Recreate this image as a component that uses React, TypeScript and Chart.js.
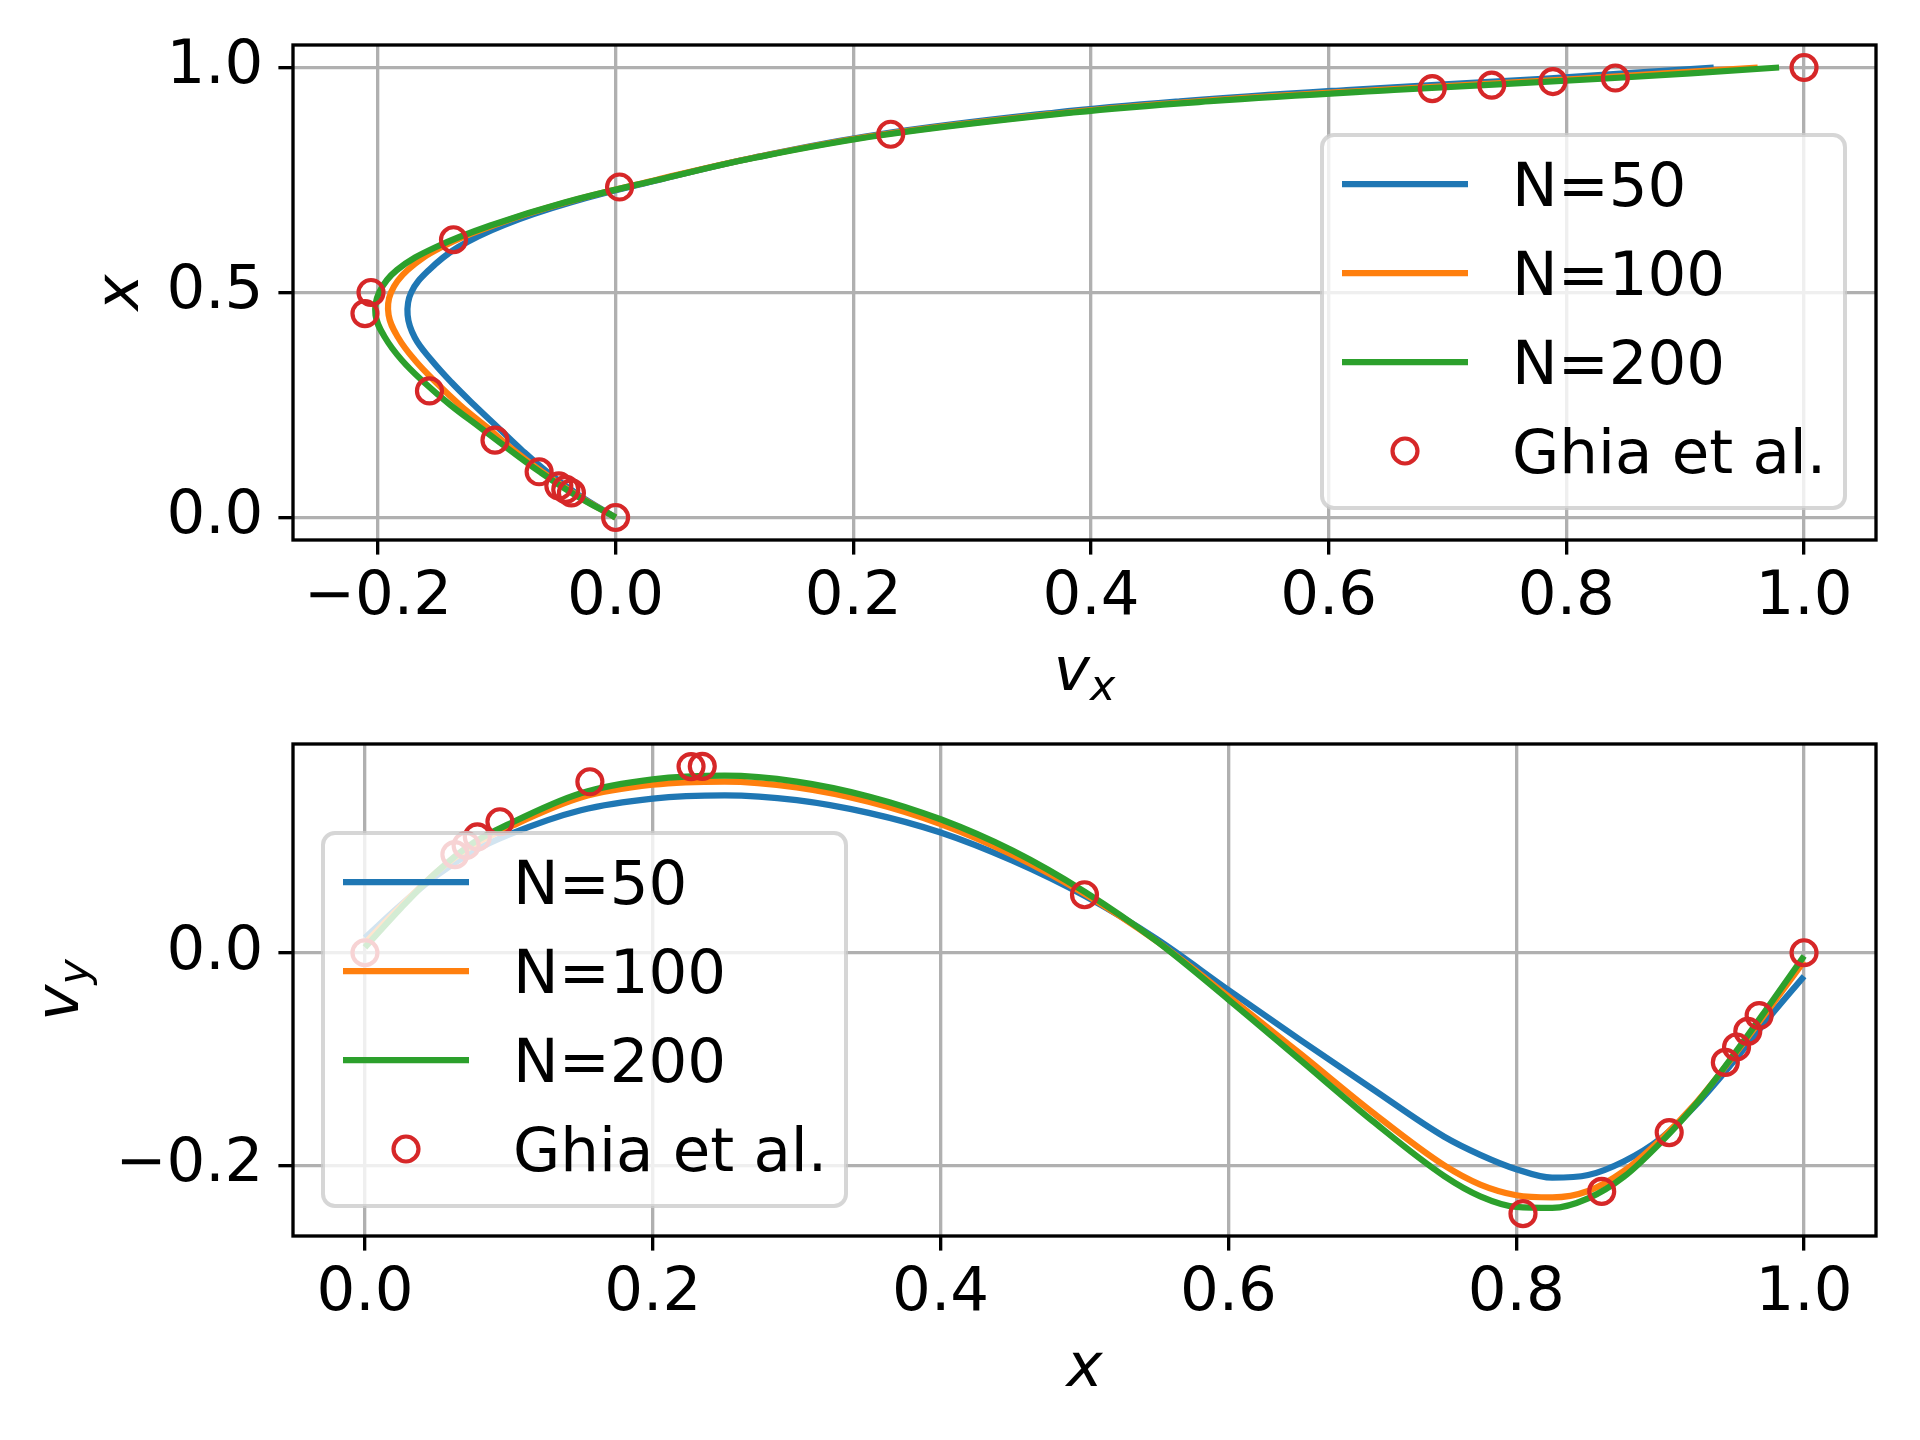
import React, { useEffect, useRef } from 'react';
import { Chart, registerables } from 'chart.js';

Chart.register(...registerables);

// ---------------- data ----------------
// Top panel: horizontal velocity v_x along the vertical centre line (position x)
const TOP_POS = [0, 0.05, 0.1, 0.15, 0.2, 0.25, 0.3, 0.35, 0.4, 0.45, 0.5, 0.55, 0.6, 0.65, 0.7, 0.75, 0.8, 0.85, 0.9, 0.925, 0.95, 0.975, 1.0];
const TOP_VX_N50 = [0, -0.031, -0.057, -0.079, -0.099, -0.119, -0.138, -0.155, -0.169, -0.175, -0.172, -0.157, -0.133, -0.094, -0.038, 0.036, 0.117, 0.218, 0.37, 0.475, 0.615, 0.78, 0.924];
const TOP_VX_N100 = [0, -0.033, -0.061, -0.086, -0.108, -0.131, -0.151, -0.169, -0.183, -0.191, -0.189, -0.175, -0.147, -0.102, -0.042, 0.034, 0.117, 0.222, 0.38, 0.49, 0.64, 0.81, 0.961];
const TOP_VX_N200 = [0, -0.034, -0.063, -0.089, -0.114, -0.139, -0.161, -0.18, -0.194, -0.202, -0.199, -0.184, -0.152, -0.104, -0.043, 0.035, 0.118, 0.225, 0.385, 0.5, 0.655, 0.83, 0.979];
const GHIA_Y = [1.0, 0.9766, 0.9688, 0.9609, 0.9531, 0.8516, 0.7344, 0.6172, 0.5, 0.4531, 0.2813, 0.1719, 0.1016, 0.0703, 0.0625, 0.0547, 0.0];
const GHIA_U = [1.0, 0.84123, 0.78871, 0.73722, 0.68717, 0.23151, 0.00332, -0.13641, -0.20581, -0.2109, -0.15662, -0.1015, -0.06434, -0.04775, -0.04192, -0.03717, 0.0];

// Bottom panel: vertical velocity v_y along the horizontal centre line
const BOT_POS = [0, 0.025, 0.05, 0.075, 0.1, 0.15, 0.2, 0.25, 0.3, 0.35, 0.4, 0.45, 0.5, 0.55, 0.6, 0.65, 0.7, 0.75, 0.775, 0.8, 0.825, 0.85, 0.875, 0.9, 0.925, 0.95, 0.975, 1.0];
const BOT_VY_N50 = [0.014, 0.045, 0.073, 0.095, 0.111, 0.134, 0.145, 0.148, 0.1435, 0.1315, 0.113, 0.0865, 0.0535, 0.013, -0.035, -0.082, -0.128, -0.173, -0.19, -0.2035, -0.2115, -0.209, -0.196, -0.175, -0.143, -0.104, -0.062, -0.022];
const BOT_VY_N100 = [0.009, 0.044, 0.076, 0.101, 0.118, 0.146, 0.158, 0.161, 0.1555, 0.142, 0.121, 0.092, 0.0555, 0.011, -0.041, -0.095, -0.15, -0.2, -0.218, -0.228, -0.23, -0.224, -0.205, -0.176, -0.141, -0.099, -0.054, -0.008];
const BOT_VY_N200 = [0.005, 0.042, 0.076, 0.103, 0.121, 0.15, 0.163, 0.1665, 0.161, 0.147, 0.1255, 0.096, 0.0575, 0.011, -0.044, -0.101, -0.158, -0.21, -0.229, -0.239, -0.24, -0.231, -0.2105, -0.179, -0.142, -0.098, -0.051, -0.003];
const GHIA_X = [1.0, 0.9688, 0.9609, 0.9531, 0.9453, 0.9063, 0.8594, 0.8047, 0.5, 0.2344, 0.2266, 0.1563, 0.0938, 0.0781, 0.0703, 0.0625, 0.0];
const GHIA_V = [0.0, -0.05906, -0.07391, -0.08864, -0.10313, -0.16914, -0.22445, -0.24533, 0.05454, 0.17527, 0.17507, 0.16077, 0.12317, 0.1089, 0.10091, 0.09233, 0.0];

const SERIES_LABELS = ['N=50', 'N=100', 'N=200', 'Ghia et al.'];

const TOP_X_TICKS = [-0.2, 0, 0.2, 0.4, 0.6, 0.8, 1.0];
const TOP_X_TICK_LABELS = ['\u22120.2', '0.0', '0.2', '0.4', '0.6', '0.8', '1.0'];
const TOP_Y_TICKS = [0, 0.5, 1.0];
const TOP_Y_TICK_LABELS = ['0.0', '0.5', '1.0'];
const BOT_X_TICKS = [0, 0.2, 0.4, 0.6, 0.8, 1.0];
const BOT_X_TICK_LABELS = ['0.0', '0.2', '0.4', '0.6', '0.8', '1.0'];
const BOT_Y_TICKS = [-0.2, 0.0];
const BOT_Y_TICK_LABELS = ['\u22120.2', '0.0'];

// ---------------- styles ----------------
const COLORS = ['#1f77b4', '#ff7f0e', '#2ca02c', '#d62728'];
const FONT_FAMILY = "'DejaVu Sans', sans-serif";
const FS = 61;
const SUB_FS = 42.7;
const LINE_W = 6.25;
const THIN = 3.33;
const TICK_LEN = 14.6;
const MARKER_R = 12.5;
const MARKER_W = 4.17;

function pts(xs: number[], ys: number[]) {
  return xs.map((x, i) => ({ x, y: ys[i] }));
}

function paddedRange(values: number[]) {
  const lo = Math.min(...values);
  const hi = Math.max(...values);
  const m = (hi - lo) * 0.05;
  return [lo - m, hi + m];
}

function roundRectPath(ctx: CanvasRenderingContext2D, x: number, y: number, w: number, h: number, r: number) {
  ctx.beginPath();
  ctx.moveTo(x + r, y);
  ctx.lineTo(x + w - r, y);
  ctx.arcTo(x + w, y, x + w, y + r, r);
  ctx.lineTo(x + w, y + h - r);
  ctx.arcTo(x + w, y + h, x + w - r, y + h, r);
  ctx.lineTo(x + r, y + h);
  ctx.arcTo(x, y + h, x, y + h - r, r);
  ctx.lineTo(x, y + r);
  ctx.arcTo(x, y, x + r, y, r);
  ctx.closePath();
}

function drawMathLabel(ctx: CanvasRenderingContext2D, main: string, sub: string | null) {
  // draws centred on x=0 with baseline at y=0
  ctx.font = `italic ${FS}px ${FONT_FAMILY}`;
  const wMain = ctx.measureText(main).width;
  let wSub = 0;
  if (sub) {
    ctx.font = `italic ${SUB_FS}px ${FONT_FAMILY}`;
    wSub = ctx.measureText(sub).width;
  }
  const start = -(wMain + wSub) / 2;
  ctx.fillStyle = '#000';
  ctx.textAlign = 'left';
  ctx.textBaseline = 'alphabetic';
  ctx.font = `italic ${FS}px ${FONT_FAMILY}`;
  ctx.fillText(main, start, 0);
  if (sub) {
    ctx.font = `italic ${SUB_FS}px ${FONT_FAMILY}`;
    ctx.fillText(sub, start + wMain, 9.5);
  }
}

type PanelSpec = {
  lines: { x: number; y: number }[][];
  ghia: { x: number; y: number }[];
  monotone: boolean;
  xRange: number[];
  yRange: number[];
  xTicks: number[];
  xTickLabels: string[];
  yTicks: number[];
  yTickLabels: string[];
  padTop: number;
  xAxisH: number;
  legendX: (a: any) => number;
  legendY: (a: any) => number;
  xLabel: [string, string | null];
  yLabel: [string, string | null];
  yLabelOffset: number;
};

function labelFor(ticks: number[], labels: string[], v: number) {
  let best = 0;
  for (let i = 0; i < ticks.length; i++) {
    if (Math.abs(ticks[i] - v) < Math.abs(ticks[best] - v)) best = i;
  }
  return labels[best];
}

function makeConfig(spec: PanelSpec): any {
  const decor = {
    id: 'decor',
    afterDatasetsDraw(chart: any) {
      const ctx: CanvasRenderingContext2D = chart.ctx;
      const a = chart.chartArea;
      ctx.save();
      // spines
      ctx.strokeStyle = '#000';
      ctx.lineWidth = THIN;
      ctx.lineJoin = 'miter';
      ctx.strokeRect(a.left, a.top, a.right - a.left, a.bottom - a.top);
      // legend
      const bx = spec.legendX(a);
      const by = spec.legendY(a);
      const bw = 523;
      const bh = 373;
      roundRectPath(ctx, bx, by, bw, bh, 12);
      ctx.fillStyle = 'rgba(255,255,255,0.8)';
      ctx.fill();
      ctx.strokeStyle = 'rgba(204,204,204,0.8)';
      ctx.lineWidth = 4;
      ctx.stroke();
      chart.data.datasets.forEach((ds: any, i: number) => {
        const cy = by + 49 + i * 89;
        if (ds.showLine) {
          ctx.beginPath();
          ctx.moveTo(bx + 20, cy);
          ctx.lineTo(bx + 146, cy);
          ctx.strokeStyle = ds.borderColor;
          ctx.lineWidth = LINE_W;
          ctx.lineCap = 'butt';
          ctx.stroke();
        } else {
          ctx.beginPath();
          ctx.arc(bx + 83, cy, MARKER_R, 0, Math.PI * 2);
          ctx.strokeStyle = ds.pointBorderColor;
          ctx.lineWidth = MARKER_W;
          ctx.stroke();
        }
        ctx.fillStyle = '#000';
        ctx.font = `${FS}px ${FONT_FAMILY}`;
        ctx.textAlign = 'left';
        ctx.textBaseline = 'alphabetic';
        ctx.fillText(ds.label, bx + 190, cy + 22);
      });
      ctx.restore();
    },
    afterDraw(chart: any) {
      const ctx: CanvasRenderingContext2D = chart.ctx;
      const a = chart.chartArea;
      ctx.save();
      ctx.translate((a.left + a.right) / 2, a.bottom + 150);
      drawMathLabel(ctx, spec.xLabel[0], spec.xLabel[1]);
      ctx.restore();
      ctx.save();
      ctx.translate(a.left - spec.yLabelOffset, (a.top + a.bottom) / 2);
      ctx.rotate(-Math.PI / 2);
      drawMathLabel(ctx, spec.yLabel[0], spec.yLabel[1]);
      ctx.restore();
    },
  };

  const orders = [3, 2, 1];
  const datasets: any[] = spec.lines.map((data, i) => ({
    type: 'scatter',
    label: SERIES_LABELS[i],
    data,
    showLine: true,
    borderColor: COLORS[i],
    backgroundColor: COLORS[i],
    borderWidth: LINE_W,
    borderJoinStyle: 'round',
    pointRadius: 0,
    pointHoverRadius: 0,
    tension: 0.4,
    cubicInterpolationMode: spec.monotone ? 'monotone' : 'default',
    order: orders[i],
  }));
  datasets.push({
    type: 'scatter',
    label: SERIES_LABELS[3],
    data: spec.ghia,
    showLine: false,
    pointStyle: 'circle',
    pointRadius: MARKER_R,
    pointHoverRadius: MARKER_R,
    pointBorderWidth: MARKER_W,
    pointBorderColor: COLORS[3],
    pointBackgroundColor: 'rgba(0,0,0,0)',
    borderColor: COLORS[3],
    backgroundColor: 'rgba(0,0,0,0)',
    order: 0,
  });

  const tickFont = { family: FONT_FAMILY, size: FS };
  const gridOpts = {
    color: '#b0b0b0',
    lineWidth: THIN,
    drawTicks: true,
    tickLength: TICK_LEN,
    tickColor: '#000',
    tickWidth: THIN,
  };

  return {
    type: 'scatter',
    data: { datasets },
    options: {
      animation: false,
      responsive: false,
      maintainAspectRatio: false,
      devicePixelRatio: 1,
      events: [],
      layout: { padding: { left: 0, right: 44, top: spec.padTop, bottom: 0 } },
      plugins: { legend: { display: false }, tooltip: { enabled: false } },
      scales: {
        x: {
          type: 'linear',
          position: 'bottom',
          min: spec.xRange[0],
          max: spec.xRange[1],
          afterBuildTicks: (s: any) => {
            s.ticks = spec.xTicks.map((v) => ({ value: v }));
          },
          afterFit: (s: any) => {
            s.height = spec.xAxisH;
            s.paddingLeft = 0;
            s.paddingRight = 0;
            s.paddingTop = 0;
            s.paddingBottom = 0;
          },
          grid: gridOpts,
          border: { display: false },
          ticks: {
            font: tickFont,
            color: '#000',
            padding: 7,
            autoSkip: false,
            maxRotation: 0,
            minRotation: 0,
            callback: (v: number) => labelFor(spec.xTicks, spec.xTickLabels, v),
          },
        },
        y: {
          type: 'linear',
          position: 'left',
          min: spec.yRange[0],
          max: spec.yRange[1],
          afterBuildTicks: (s: any) => {
            s.ticks = spec.yTicks.map((v) => ({ value: v }));
          },
          afterFit: (s: any) => {
            s.width = 293;
            s.paddingLeft = 0;
            s.paddingRight = 0;
            s.paddingTop = 0;
            s.paddingBottom = 0;
          },
          grid: gridOpts,
          border: { display: false },
          ticks: {
            font: tickFont,
            color: '#000',
            padding: 15,
            autoSkip: false,
            callback: (v: number) => labelFor(spec.yTicks, spec.yTickLabels, v),
          },
        },
      },
    },
    plugins: [decor],
  };
}

const topSpec: PanelSpec = {
  lines: [pts(TOP_VX_N50, TOP_POS), pts(TOP_VX_N100, TOP_POS), pts(TOP_VX_N200, TOP_POS)],
  ghia: pts(GHIA_U, GHIA_Y),
  monotone: false,
  xRange: paddedRange([...TOP_VX_N50, ...TOP_VX_N100, ...TOP_VX_N200, ...GHIA_U]),
  yRange: paddedRange([...TOP_POS, ...GHIA_Y]),
  xTicks: TOP_X_TICKS,
  xTickLabels: TOP_X_TICK_LABELS,
  yTicks: TOP_Y_TICKS,
  yTickLabels: TOP_Y_TICK_LABELS,
  padTop: 45,
  xAxisH: 180,
  legendX: (a) => a.right - 31 - 523,
  legendY: (a) => a.top + 90,
  xLabel: ['v', 'x'],
  yLabel: ['x', null],
  yLabelOffset: 155,
};

const botSpec: PanelSpec = {
  lines: [pts(BOT_POS, BOT_VY_N50), pts(BOT_POS, BOT_VY_N100), pts(BOT_POS, BOT_VY_N200)],
  ghia: pts(GHIA_X, GHIA_V),
  monotone: true,
  xRange: paddedRange([...BOT_POS, ...GHIA_X]),
  yRange: paddedRange([...BOT_VY_N50, ...BOT_VY_N100, ...BOT_VY_N200, ...GHIA_V]),
  xTicks: BOT_X_TICKS,
  xTickLabels: BOT_X_TICK_LABELS,
  yTicks: BOT_Y_TICKS,
  yTickLabels: BOT_Y_TICK_LABELS,
  padTop: 24,
  xAxisH: 204,
  legendX: (a) => a.left + 30,
  legendY: (a) => a.top + 89,
  xLabel: ['x', null],
  yLabel: ['v', 'y'],
  yLabelOffset: 215,
};

function Panel({ spec, top }: { spec: PanelSpec; top: number }) {
  const ref = useRef<HTMLCanvasElement | null>(null);
  useEffect(() => {
    if (!ref.current) return;
    const chart = new Chart(ref.current, makeConfig(spec));
    return () => chart.destroy();
  }, [spec]);
  return (
    <canvas
      ref={ref}
      width={1920}
      height={720}
      style={{ position: 'absolute', left: 0, top, width: 1920, height: 720, display: 'block' }}
    />
  );
}

export default function App() {
  return (
    <div style={{ position: 'absolute', left: 0, top: 0, width: 1920, height: 1440, background: '#ffffff', overflow: 'hidden' }}>
      <Panel spec={topSpec} top={0} />
      <Panel spec={botSpec} top={720} />
    </div>
  );
}
